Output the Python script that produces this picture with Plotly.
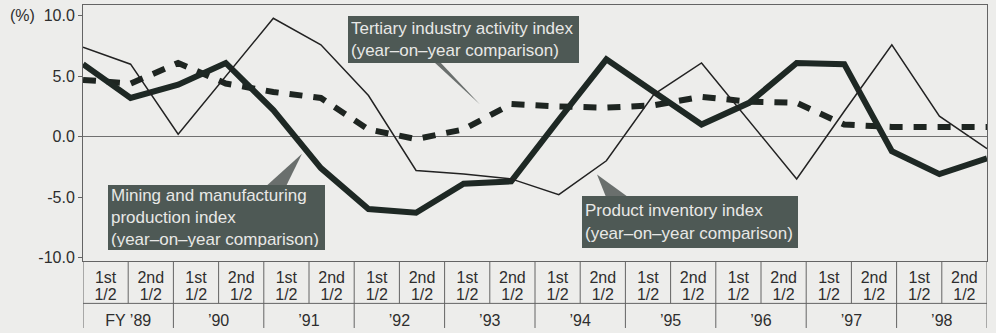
import plotly.graph_objects as go

# ---- data ----
halves = list(range(20))  # FY'89 1st half ... FY'98 2nd half
mining = [6.0, 3.2, 4.3, 6.1, 2.2, -2.6, -6.0, -6.3, -3.9, -3.7,
          1.4, 6.4, 3.7, 1.0, 2.8, 6.1, 6.0, -1.2, -3.1, -1.8]
tertiary = [4.7, 4.4, 6.1, 4.4, 3.7, 3.2, 0.6, -0.2, 0.6, 2.7,
            2.5, 2.4, 2.6, 3.3, 2.9, 2.8, 1.0, 0.8, 0.8, 0.8]
inventory = [7.4, 6.0, 0.2, 5.0, 9.8, 7.6, 3.4, -2.8, -3.1, -3.5,
             -4.8, -2.0, 3.5, 6.1, 1.3, -3.5, 2.1, 7.6, 1.7, -1.0]

half_top = ["1st", "2nd"] * 10
half_bottom = ["1/2"] * 20
years = ["FY \u201989", "\u201990", "\u201991", "\u201992", "\u201993",
         "\u201994", "\u201995", "\u201996", "\u201997", "\u201998"]
y_tick_vals = [-10, -5, 0, 5, 10]
y_tick_text = ["-10.0", "-5.0", "0.0", "5.0", "10.0"]

box_labels = {
    "tertiary": "Tertiary industry activity index<br>(year\u2013on\u2013year comparison)",
    "mining": "Mining and manufacturing<br>production index<br>(year\u2013on\u2013year comparison)",
    "inventory": "Product inventory index<br>(year\u2013on\u2013year comparison)",
}

# ---- layout geometry ----
W, H = 996, 333
ML, MR, MT, MB = 83, 9, 5, 0
PW, PH = W - ML - MR, H - MT - MB
TABLE_PX = 68           # table height in px at the bottom
ROW1_PX = 43
FONT = "Liberation Sans, Arial, Helvetica, sans-serif"
BG = "#ededeb"
LINEC = "#646464"
TXT = "#2e2e2e"


def pp(xp, yp):
    """pixel -> paper coordinates"""
    return (xp - ML) / PW, (H - MB - yp) / PH


fig = go.Figure()

fig.add_trace(go.Scatter(x=halves, y=tertiary, mode="lines",
                         line=dict(color="#1e2521", width=6, dash="13px,11px"),
                         hoverinfo="skip"))
fig.add_trace(go.Scatter(x=halves, y=mining, mode="lines",
                         line=dict(color="#1e2824", width=6),
                         hoverinfo="skip"))
fig.add_trace(go.Scatter(x=halves, y=inventory, mode="lines",
                         line=dict(color="#222222", width=1.5),
                         hoverinfo="skip"))

# table texts
tf = dict(family=FONT, size=16, color=TXT)
fig.add_trace(go.Scatter(x=[i + 0.5 for i in range(20)], y=[18] * 20, text=half_top,
                         mode="text", textfont=tf, xaxis="x2", yaxis="y2", hoverinfo="skip"))
fig.add_trace(go.Scatter(x=[i + 0.5 for i in range(20)], y=[35] * 20, text=half_bottom,
                         mode="text", textfont=tf, xaxis="x2", yaxis="y2", hoverinfo="skip"))
fig.add_trace(go.Scatter(x=[2 * k + 1 for k in range(10)], y=[62] * 10, text=years,
                         mode="text", textfont=tf, xaxis="x2", yaxis="y2", hoverinfo="skip"))

shapes = []
# table grid
shapes.append(dict(type="line", xref="x2", yref="y2", x0=0, x1=20, y0=ROW1_PX, y1=ROW1_PX,
                   line=dict(color=LINEC, width=1)))
for k in range(0, 21):
    y1 = TABLE_PX if k % 2 == 0 else ROW1_PX
    shapes.append(dict(type="line", xref="x2", yref="y2", x0=k, x1=k, y0=0, y1=y1,
                       line=dict(color=LINEC, width=1)))

# callout wedges (pixel positions)
wedges = [
    [(434, 63), (440, 63), (480, 106)],
    [(266, 189), (286, 189), (302, 156)],
    [(606, 200), (628, 200), (597, 177)],
]
for w in wedges:
    pts = [pp(*p) for p in w]
    path = "M {} {} L {} {} L {} {} Z".format(pts[0][0], pts[0][1], pts[1][0], pts[1][1],
                                               pts[2][0], pts[2][1])
    shapes.append(dict(type="path", xref="paper", yref="paper", path=path,
                       fillcolor="#6a6f6d", line=dict(width=0)))

annotations = []
box_font = dict(family=FONT, size=17, color="#e8e8e6")
boxes = [
    ("tertiary", 348, 16, 231, 47),
    ("mining", 108, 188, 217, 65),
    ("inventory", 582, 199, 216, 52),
]
PAD = 3
for key, bx, by, bw, bh in boxes:
    x, y = pp(bx, by)
    annotations.append(dict(xref="paper", yref="paper", x=x, y=y, xanchor="left", yanchor="top",
                            text=box_labels[key], showarrow=False, align="left", valign="middle",
                            width=bw - 2 * PAD, height=bh - 2 * PAD, borderpad=PAD, borderwidth=0,
                            bgcolor="#4e5955", font=box_font))

annotations.append(dict(xref="paper", yref="y", x=pp(8, 0)[0], y=10, xanchor="left",
                        yanchor="middle", text="(%)", showarrow=False,
                        font=dict(family=FONT, size=16, color=TXT)))

ydom0 = TABLE_PX / PH
fig.update_layout(
    width=W, height=H,
    margin=dict(l=ML, r=MR, t=MT, b=MB, pad=0),
    paper_bgcolor=BG, plot_bgcolor=BG,
    showlegend=False,
    xaxis=dict(domain=[0, 1], range=[0, 19], showline=True, mirror=True, linecolor=LINEC,
               linewidth=1, showticklabels=False, ticks="", showgrid=False, zeroline=False,
               anchor="y", fixedrange=True),
    yaxis=dict(domain=[ydom0, 1], range=[-10.3, 10.9], tickvals=y_tick_vals, ticktext=y_tick_text,
               ticks="outside", ticklen=4, tickcolor=LINEC, showline=True, mirror=True,
               linecolor=LINEC, linewidth=1, showgrid=False, zeroline=True, zerolinecolor="#707070",
               zerolinewidth=1, tickfont=dict(family=FONT, size=16, color=TXT), anchor="x",
               fixedrange=True),
    xaxis2=dict(domain=[0, 1], range=[0, 20], visible=False, anchor="y2", fixedrange=True),
    yaxis2=dict(domain=[0, ydom0], range=[TABLE_PX, 0], visible=False, anchor="x2", fixedrange=True),
    shapes=shapes,
    annotations=annotations,
)

fig.write_html("out.html")
